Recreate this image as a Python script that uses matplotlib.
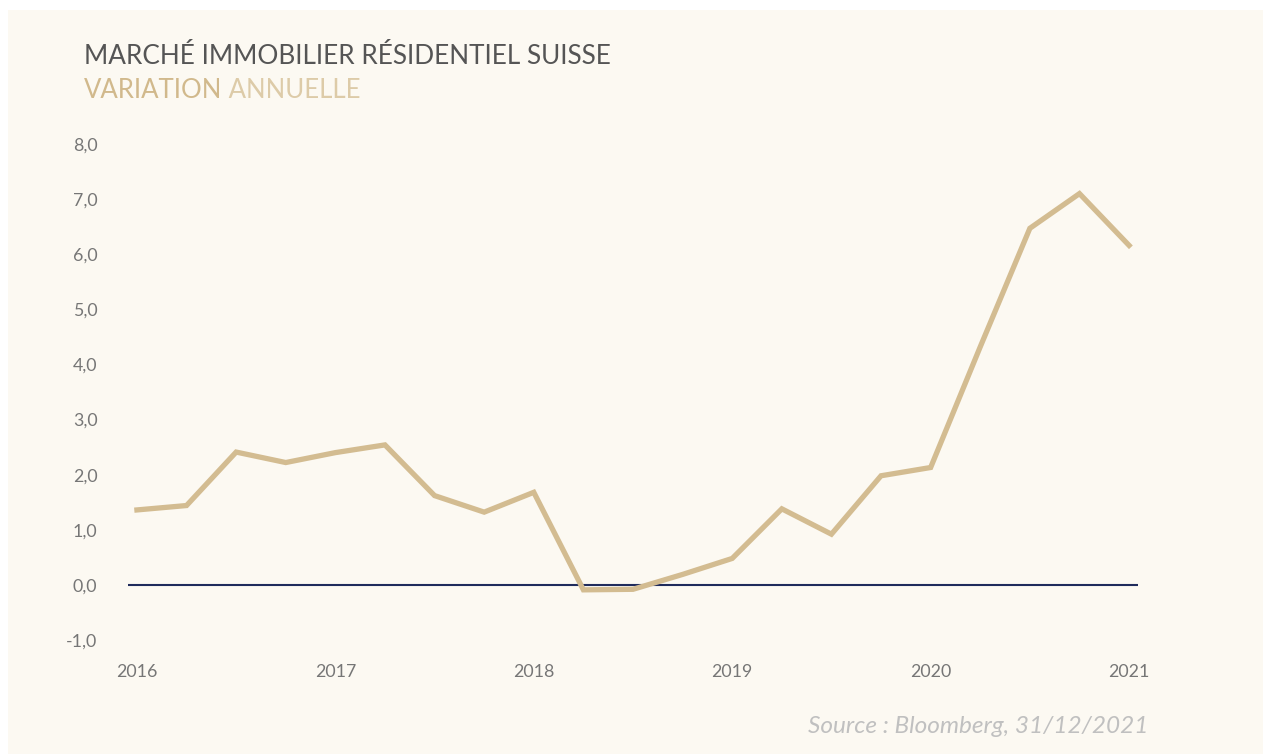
import matplotlib.pyplot as plt
from matplotlib.patches import Rectangle

# quarterly annual change, Swiss residential real estate (%)
quarters = [2016.0, 2016.25, 2016.5, 2016.75,
            2017.0, 2017.25, 2017.5, 2017.75,
            2018.0, 2018.25, 2018.5, 2018.75,
            2019.0, 2019.25, 2019.5, 2019.75,
            2020.0, 2020.25, 2020.5, 2020.75,
            2021.0]
variation = [1.36, 1.44, 2.41, 2.22,
             2.40, 2.54, 1.62, 1.32,
             1.68, -0.09, -0.08, 0.19,
             0.48, 1.38, 0.92, 1.98,
             2.13, 4.32, 6.47, 7.10,
             6.16]
year_ticks = [2016, 2017, 2018, 2019, 2020, 2021]
value_ticks = [-1, 0, 1, 2, 3, 4, 5, 6, 7, 8]

BG = '#fcf9f2'
GOLD = '#d3bc91'
NAVY = '#1f2b5c'
GREY = '#767676'

plt.rcParams['font.family'] = ['Lato', 'DejaVu Sans']

fig = plt.figure(figsize=(12.63, 7.54), dpi=100)
fig.patch.set_facecolor('white')
fig.patches.append(Rectangle((8 / 1263, 0), 1, 1 - 10 / 754, transform=fig.transFigure,
                             facecolor=BG, edgecolor='none', zorder=-10))

ax = fig.add_axes([128 / 1263, 1 - 640 / 754, (1138 - 128) / 1263, (640 - 144) / 754])
ax.patch.set_alpha(0)

ax.axhline(0, color=NAVY, lw=1.5, zorder=1)
ax.plot(quarters, variation, color=GOLD, lw=3.8, solid_joinstyle='miter', zorder=2)

ax.set_xlim(2015.955, 2021.045)
ax.set_ylim(-1, 8)
ax.set_xticks(year_ticks)
ax.set_xticklabels([str(y) for y in year_ticks])
ax.set_yticks(value_ticks)
ax.set_yticklabels([f'{v:.1f}'.replace('.', ',') for v in value_ticks])
ax.tick_params(axis='both', length=0, labelsize=12.8, labelcolor=GREY)
ax.tick_params(axis='x', pad=17)
ax.tick_params(axis='y', pad=22)
for s in ax.spines.values():
    s.set_visible(False)

fig.text(84 / 1263, 1 - 64 / 754, 'MARCHÉ IMMOBILIER RÉSIDENTIEL SUISSE',
         fontsize=18.8, color='#555555', va='baseline', ha='left')
t1 = fig.text(84 / 1263, 1 - 98 / 754, 'VARIATION', fontsize=18.5, color='#d1b98c',
              va='baseline', ha='left')
ax.annotate(' ANNUELLE', xy=(1, 0), xycoords=t1, xytext=(0, 0), textcoords='offset points',
            fontsize=18.5, color='#ddcba8', va='bottom', ha='left',
            annotation_clip=False)

fig.text(1148 / 1263, 1 - 733 / 754, 'Source : Bloomberg, 31/12/2021', fontsize=17.6,
         color='#c0c0c0', style='italic', ha='right', va='baseline')

fig.savefig('out.png', dpi=100, facecolor=fig.get_facecolor())
